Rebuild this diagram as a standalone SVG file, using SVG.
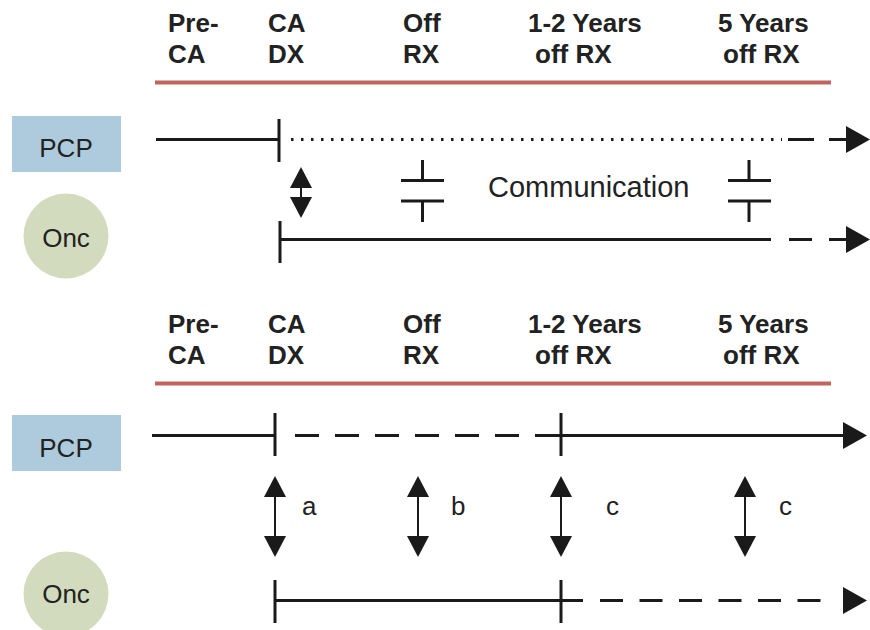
<svg xmlns="http://www.w3.org/2000/svg" xmlns:xlink="http://www.w3.org/1999/xlink" width="870" height="630" viewBox="0 0 870 630">
<style>
.hdr{font-family:"Liberation Sans",Arial,sans-serif;font-weight:bold;font-size:26px;fill:#222}
.lbl{font-family:"Liberation Sans",Arial,sans-serif;font-size:26px;fill:#222}
.com{font-family:"Liberation Sans",Arial,sans-serif;font-size:29px;fill:#222}
.ln{stroke:#1a1a1a;stroke-width:3;fill:none}
.thin{stroke:#1a1a1a;stroke-width:2;fill:none}
.red{stroke:#c0645c;stroke-width:4}
.head{fill:#1a1a1a}
</style>
<defs>
<path id="ahR" d="M0,0 L-24,-13.5 L-24,13.5 Z"/>
<path id="ahU" d="M0,0 L-11,21 L11,21 Z"/>
<path id="ahD" d="M0,0 L-11,-21 L11,-21 Z"/>
</defs>
<rect width="870" height="630" fill="#fff"/>

<g id="header-top">
<text class="hdr" x="168" y="32">Pre-</text>
<text class="hdr" x="168" y="63">CA</text>
<text class="hdr" x="268" y="32">CA</text>
<text class="hdr" x="268" y="63">DX</text>
<text class="hdr" x="403" y="32">Off</text>
<text class="hdr" x="403" y="63">RX</text>
<text class="hdr" x="528" y="32">1-2 Years</text>
<text class="hdr" x="535" y="63">off RX</text>
<text class="hdr" x="718" y="32">5 Years</text>
<text class="hdr" x="723" y="63">off RX</text>
<line class="red" x1="155" y1="82.5" x2="831" y2="82.5"/>
</g>

<g id="pcp-top">
<rect x="12" y="116" width="109" height="56" fill="#adcbdc"/>
<text class="lbl" x="66" y="157" text-anchor="middle">PCP</text>
</g>
<g id="onc-top">
<circle cx="66" cy="236" r="42.5" fill="#d3dbbf"/>
<text class="lbl" x="66" y="247" text-anchor="middle">Onc</text>
</g>

<g id="header-bottom">
<text class="hdr" x="168" y="333">Pre-</text>
<text class="hdr" x="168" y="364">CA</text>
<text class="hdr" x="268" y="333">CA</text>
<text class="hdr" x="268" y="364">DX</text>
<text class="hdr" x="403" y="333">Off</text>
<text class="hdr" x="403" y="364">RX</text>
<text class="hdr" x="528" y="333">1-2 Years</text>
<text class="hdr" x="535" y="364">off RX</text>
<text class="hdr" x="718" y="333">5 Years</text>
<text class="hdr" x="723" y="364">off RX</text>
<line class="red" x1="155" y1="383.5" x2="831" y2="383.5"/>
</g>

<g id="pcp-bottom">
<rect x="12" y="415" width="109" height="56" fill="#adcbdc"/>
<text class="lbl" x="66" y="457" text-anchor="middle">PCP</text>
</g>
<g id="onc-bottom">
<circle cx="66" cy="594" r="42.5" fill="#d3dbbf"/>
<text class="lbl" x="66" y="603" text-anchor="middle">Onc</text>
</g>

<g id="connectors">
<!-- top PCP timeline -->
<line class="ln" x1="156" y1="139.5" x2="279" y2="139.5"/>
<line class="ln" x1="279" y1="119" x2="279" y2="162"/>
<line class="ln" x1="291" y1="139.5" x2="782" y2="139.5" stroke-dasharray="2.5 7.5"/>
<line class="ln" x1="788" y1="139.5" x2="814" y2="139.5"/>
<line class="ln" x1="829" y1="139.5" x2="848" y2="139.5"/>
<use href="#ahR" class="head" x="870" y="139.5"/>
<!-- top Onc timeline -->
<line class="ln" x1="280" y1="221" x2="280" y2="263"/>
<line class="ln" x1="280" y1="239.5" x2="771" y2="239.5"/>
<line class="ln" x1="789" y1="239.5" x2="812" y2="239.5"/>
<line class="ln" x1="829" y1="239.5" x2="848" y2="239.5"/>
<use href="#ahR" class="head" x="870" y="239.5"/>
<!-- top double arrow -->
<line class="thin" x1="301" y1="185" x2="301" y2="200"/>
<use href="#ahU" class="head" x="301" y="167"/>
<use href="#ahD" class="head" x="301" y="218"/>
<!-- communication symbols -->
<line class="ln" x1="422.5" y1="160" x2="422.5" y2="180"/>
<line class="ln" x1="401" y1="180.5" x2="444" y2="180.5"/>
<line class="ln" x1="401" y1="201" x2="444" y2="201"/>
<line class="ln" x1="422.5" y1="201" x2="422.5" y2="222"/>
<line class="ln" x1="749" y1="160" x2="749" y2="180"/>
<line class="ln" x1="728" y1="180.5" x2="771" y2="180.5"/>
<line class="ln" x1="728" y1="201" x2="771" y2="201"/>
<line class="ln" x1="749" y1="201" x2="749" y2="222"/>
<text class="com" x="488" y="197">Communication</text>

<!-- bottom PCP timeline -->
<line class="ln" x1="152" y1="435.5" x2="275" y2="435.5"/>
<line class="ln" x1="275" y1="413" x2="275" y2="456"/>
<line class="ln" x1="295" y1="435.5" x2="535" y2="435.5" stroke-dasharray="24 16"/>
<line class="ln" x1="535" y1="435.5" x2="844" y2="435.5"/>
<line class="ln" x1="561" y1="413" x2="561" y2="456"/>
<use href="#ahR" class="head" x="867" y="435.5"/>
<!-- bottom Onc timeline -->
<line class="ln" x1="275" y1="580" x2="275" y2="623"/>
<line class="ln" x1="275" y1="600.5" x2="583" y2="600.5"/>
<line class="ln" x1="561" y1="580" x2="561" y2="623"/>
<line class="ln" x1="600" y1="600.5" x2="826" y2="600.5" stroke-dasharray="23 16.5"/>
<use href="#ahR" class="head" x="867" y="600.5"/>
<!-- bottom double arrows -->
<line class="thin" x1="275" y1="495" x2="275" y2="538"/>
<use href="#ahU" class="head" x="275" y="476"/>
<use href="#ahD" class="head" x="275" y="557"/>
<line class="thin" x1="418" y1="495" x2="418" y2="538"/>
<use href="#ahU" class="head" x="418" y="476"/>
<use href="#ahD" class="head" x="418" y="557"/>
<line class="thin" x1="561" y1="495" x2="561" y2="538"/>
<use href="#ahU" class="head" x="561" y="476"/>
<use href="#ahD" class="head" x="561" y="557"/>
<line class="thin" x1="745" y1="495" x2="745" y2="538"/>
<use href="#ahU" class="head" x="745" y="476"/>
<use href="#ahD" class="head" x="745" y="557"/>
<text class="lbl" x="302" y="515">a</text>
<text class="lbl" x="451" y="515">b</text>
<text class="lbl" x="606" y="515">c</text>
<text class="lbl" x="779" y="515">c</text>
</g>
</svg>
